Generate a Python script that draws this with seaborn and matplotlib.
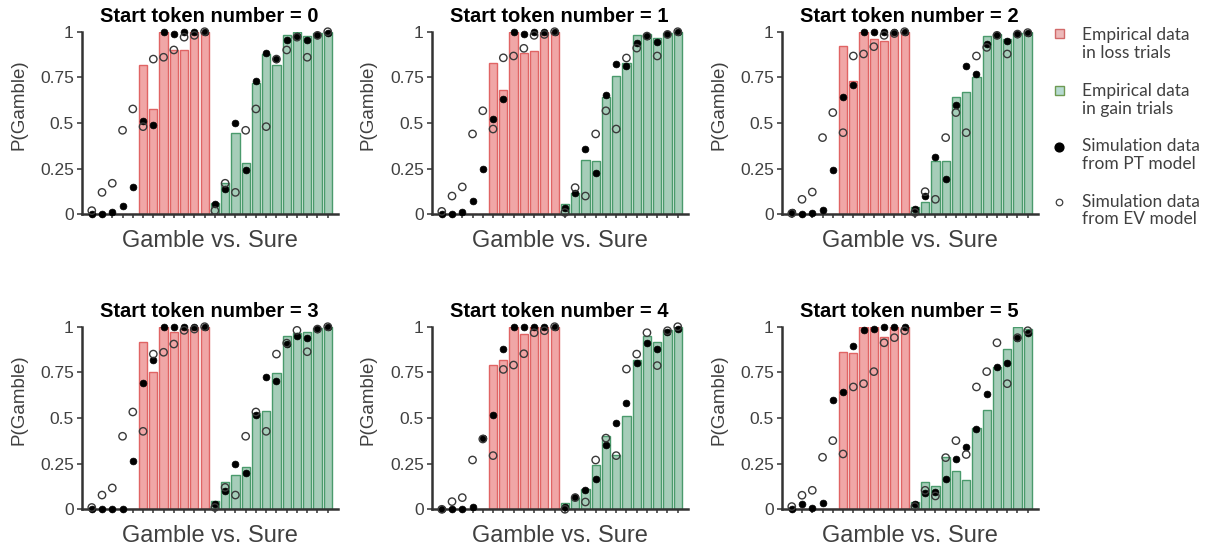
import numpy as np
import pandas as pd
import matplotlib
matplotlib.use("Agg")
import matplotlib.pyplot as plt
from matplotlib.patches import Rectangle
import seaborn as sns

# ---------------- data ----------------
start_tokens = [0, 1, 2, 3, 4, 5]
loss_positions = list(range(1, 13))
gain_positions = list(range(13, 25))

loss_emp = [
    [0, 0, 0, 0, 0, 0.82, 0.577, 1.0, 0.90, 0.90, 1.0, 1.0],
    [0, 0, 0, 0, 0, 0.83, 0.68, 1.0, 0.885, 0.894, 1.0, 1.0],
    [0, 0, 0, 0, 0, 0.923, 0.73, 1.0, 0.96, 0.95, 1.0, 1.0],
    [0, 0, 0, 0, 0, 0.914, 0.75, 1.0, 0.969, 0.99, 1.0, 1.0],
    [0, 0, 0, 0, 0, 0.79, 0.82, 1.0, 0.96, 1.0, 1.0, 1.0],
    [0, 0, 0, 0, 0, 0.863, 0.857, 1.0, 1.0, 0.945, 1.0, 1.0],
]
loss_pt = [
    [0, 0, 0.01, 0.045, 0.15, 0.51, 0.487, 1.0, 0.99, 1.0, 1.0, 1.0],
    [0, 0, 0.013, 0.073, 0.25, 0.524, 0.63, 1.0, 0.985, 1.0, 1.0, 1.0],
    [0.01, 0, 0.005, 0.024, 0.243, 0.644, 0.708, 1.0, 1.0, 1.0, 1.0, 1.0],
    [0, 0, 0, 0.002, 0.266, 0.693, 0.818, 1.0, 1.0, 1.0, 1.0, 1.0],
    [0, 0, 0, 0.01, 0.39, 0.516, 0.878, 1.0, 1.0, 1.0, 1.0, 1.0],
    [0, 0.03, 0.005, 0.033, 0.60, 0.64, 0.894, 0.98, 0.985, 1.0, 1.0, 1.0],
]
loss_ev = [
    [0.02, 0.12, 0.17, 0.46, 0.577, 0.48, 0.85, 0.86, 0.90, 0.97, 0.98, 1.0],
    [0.016, 0.10, 0.15, 0.44, 0.567, 0.467, 0.857, 0.867, 0.909, 0.98, 0.985, 1.0],
    [0.005, 0.082, 0.122, 0.42, 0.557, 0.447, 0.867, 0.878, 0.918, 0.98, 0.99, 1.0],
    [0.01, 0.078, 0.117, 0.40, 0.533, 0.427, 0.85, 0.86, 0.905, 0.98, 0.987, 1.0],
    [0, 0.042, 0.064, 0.27, 0.385, 0.294, 0.766, 0.79, 0.852, 0.967, 0.978, 1.0],
    [0.015, 0.077, 0.104, 0.285, 0.376, 0.303, 0.67, 0.688, 0.754, 0.912, 0.94, 0.978],
]
gain_emp = [
    [0.064, 0.17, 0.443, 0.283, 0.717, 0.876, 0.82, 0.98, 1.0, 0.976, 0.995, 1.0],
    [0.057, 0.115, 0.30, 0.294, 0.644, 0.76, 0.827, 0.984, 0.985, 0.967, 0.995, 1.0],
    [0.038, 0.07, 0.294, 0.294, 0.644, 0.67, 0.754, 0.978, 0.99, 0.958, 0.995, 1.0],
    [0.046, 0.148, 0.19, 0.234, 0.53, 0.54, 0.745, 0.95, 0.964, 0.969, 0.995, 1.0],
    [0.033, 0.064, 0.11, 0.24, 0.40, 0.30, 0.51, 0.82, 0.95, 0.918, 0.98, 1.0],
    [0.038, 0.15, 0.13, 0.288, 0.21, 0.16, 0.443, 0.544, 0.78, 0.88, 1.0, 0.987],
]
gain_pt = [
    [0.055, 0.14, 0.50, 0.243, 0.73, 0.885, 0.85, 0.955, 0.976, 0.955, 0.98, 0.995],
    [0.033, 0.115, 0.356, 0.224, 0.655, 0.825, 0.81, 0.94, 0.978, 0.943, 0.985, 1.0],
    [0.031, 0.099, 0.312, 0.195, 0.60, 0.81, 0.77, 0.93, 0.98, 0.95, 0.987, 0.995],
    [0.03, 0.10, 0.248, 0.197, 0.516, 0.726, 0.70, 0.903, 0.947, 0.936, 0.985, 1.0],
    [0.01, 0.07, 0.106, 0.166, 0.352, 0.474, 0.58, 0.80, 0.909, 0.88, 0.973, 0.99],
    [0.027, 0.088, 0.097, 0.166, 0.274, 0.343, 0.44, 0.63, 0.78, 0.80, 0.936, 0.964],
]
gain_ev = [
    [0.02, 0.17, 0.12, 0.46, 0.577, 0.48, 0.85, 0.90, 0.97, 0.86, 0.98, 1.0],
    [0.01, 0.146, 0.10, 0.44, 0.567, 0.467, 0.856, 0.91, 0.976, 0.867, 0.985, 1.0],
    [0.01, 0.124, 0.082, 0.42, 0.557, 0.447, 0.867, 0.914, 0.98, 0.878, 0.987, 0.995],
    [0.01, 0.12, 0.078, 0.40, 0.533, 0.427, 0.85, 0.91, 0.98, 0.863, 0.987, 1.0],
    [0.0, 0.064, 0.04, 0.27, 0.39, 0.294, 0.768, 0.85, 0.967, 0.787, 0.978, 1.0],
    [0.015, 0.104, 0.073, 0.283, 0.376, 0.30, 0.67, 0.754, 0.912, 0.688, 0.94, 0.978],
]
ytick_vals = [0, 0.25, 0.5, 0.75, 1]
ytick_labels = ["0", "0.25", "0.5", "0.75", "1"]
legend_labels = ["Empirical data\nin loss trials", "Empirical data\nin gain trials",
                 "Simulation data\nfrom PT model", "Simulation data\nfrom EV model"]

# ---------------- styling ----------------
LOSS_FILL, LOSS_EDGE = "#F0A6A6", "#E06464"
GAIN_FILL, GAIN_EDGE = "#A6CDB9", "#4A9A6C"
AX_COL = "#333333"
TXT_COL = "#404040"

sns.set_style("ticks")
plt.rcParams["font.family"] = ["Liberation Sans", "DejaVu Sans"]

W, H = 1209, 554
fig = plt.figure(figsize=(W / 100, H / 100), dpi=100)

lefts = [81.5, 431.5, 781.5]
tops = [31.7, 326.7]
aw, ah = 256.5, 182.6

for i, tok in enumerate(start_tokens):
    r, c = divmod(i, 3)
    ax = fig.add_axes([lefts[c] / W, 1 - (tops[r] + ah) / H, aw / W, ah / H])
    df = pd.DataFrame({
        "pos": loss_positions + gain_positions,
        "emp": loss_emp[i] + gain_emp[i],
        "pt": loss_pt[i] + gain_pt[i],
        "ev": loss_ev[i] + gain_ev[i],
        "cond": ["loss"] * 12 + ["gain"] * 12,
    })
    sns.barplot(data=df, x="pos", y="emp", hue="cond",
                palette={"loss": LOSS_FILL, "gain": GAIN_FILL},
                dodge=False, native_scale=True, width=0.8, saturation=1,
                errorbar=None, legend=False, linewidth=1.0, ax=ax)
    for p in ax.patches:
        p.set_edgecolor(LOSS_EDGE if p.get_x() < 12.5 else GAIN_EDGE)
        p.set_linewidth(1.0)
    sns.scatterplot(data=df, x="pos", y="pt", color="black", s=24,
                    edgecolor="black", linewidth=0.5, clip_on=False,
                    zorder=4, legend=False, ax=ax)
    sns.scatterplot(data=df, x="pos", y="ev", marker="o", s=28,
                    facecolors="none", edgecolors="#3a3a3a", linewidth=1.0,
                    clip_on=False, zorder=5, legend=False, ax=ax)

    ax.set_xlim(0, 25)
    ax.set_ylim(0, 1)
    sns.despine(ax=ax)
    for s in ["left", "bottom"]:
        ax.spines[s].set_linewidth(1.8)
        ax.spines[s].set_color(AX_COL)
    ax.set_xticks(loss_positions + gain_positions)
    ax.set_xticklabels([])
    ax.set_yticks(ytick_vals)
    ax.set_yticklabels(ytick_labels)
    ax.tick_params(axis="x", length=3, width=1.1, color=AX_COL)
    ax.tick_params(axis="y", length=3.5, width=1.1, color=AX_COL, pad=2,
                   labelsize=12.5, labelcolor=TXT_COL)
    ax.set_xlabel("Gamble vs. Sure", fontsize=17, color=TXT_COL, va="center")
    ax.xaxis.set_label_coords(0.5, -27 / ah)
    ax.set_ylabel("P(Gamble)", fontsize=13.5, color=TXT_COL, va="center",
                  ha="center")
    ax.yaxis.set_label_coords(-63 / aw, (ah - (105 - 31.7)) / ah)
    ax.set_title(f"Start token number = {tok}", fontsize=14.5, fontweight="bold",
                 pad=7, color="black")

# ---------------- legend (manual, pixel coordinates) ----------------
lax = fig.add_axes([0, 0, 1, 1])
lax.set_xlim(0, W)
lax.set_ylim(H, 0)
lax.axis("off")
lax.add_patch(Rectangle((1054.5, 28.5), 9, 9, facecolor="#EDB9B9", edgecolor="#D26A6A", lw=1))
lax.add_patch(Rectangle((1054.5, 85.5), 9, 9, facecolor="#B7DAD2", edgecolor="#6E9A52", lw=1))
lax.scatter([1059], [147], s=40, color="black", zorder=3)
lax.scatter([1059], [202], s=22, facecolors="white", edgecolors="#404040", lw=0.9, zorder=3)
for lab, yc in zip(legend_labels, [44, 100, 155, 210.5]):
    lax.text(1081.7, yc, lab, fontsize=12.5, color=TXT_COL, va="center", ha="left",
             linespacing=1.15, family=["Lato", "DejaVu Sans"])

fig.savefig("out.png", dpi=100)
